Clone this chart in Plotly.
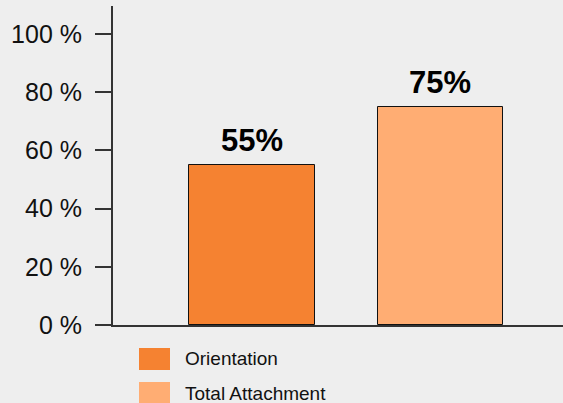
import plotly.graph_objects as go

categories = ["Orientation", "Total Attachment"]
values = [55, 75]
labels = ["55%", "75%"]
colors = ["#F58231", "#FFAD73"]
tick_vals = [0, 20, 40, 60, 80, 100]
tick_text = ["0 %", "20 %", "40 %", "60 %", "80 %", "100 %"]

FONT = "Liberation Sans, Arial, sans-serif"
W, H = 563, 403
ml, mr, mt, mb = 113, 0, 6, 78

fig = go.Figure()
for i, (cat, v, c) in enumerate(zip(categories, values, colors)):
    fig.add_trace(go.Bar(
        x=[i], y=[v], name=cat, width=0.668,
        marker=dict(color=c, line=dict(color="#111111", width=1)),
        showlegend=False, hoverinfo="skip",
    ))
    fig.add_annotation(x=i, y=v, text="<b>%s</b>" % labels[i], showarrow=False,
                       yanchor="bottom", yshift=5,
                       font=dict(family=FONT, size=31, color="#000000"))

# manual legend (larger swatches like the reference)
plot_h = H - mt - mb
plot_w = W - ml - mr
def px_to_paper_x(px):
    return (px - ml) / plot_w
def px_to_paper_y(py):
    return (H - mb - py) / plot_h

legend_rows = [(348, 370), (382, 404)]
for (top, bot), cat, c in zip(legend_rows, categories, colors):
    fig.add_shape(type="rect", xref="paper", yref="paper",
                  x0=px_to_paper_x(139), x1=px_to_paper_x(170),
                  y0=px_to_paper_y(bot), y1=px_to_paper_y(top),
                  fillcolor=c, line=dict(width=0), layer="above")
    fig.add_annotation(xref="paper", yref="paper", x=px_to_paper_x(183),
                       y=px_to_paper_y((top + bot) / 2), text=cat,
                       showarrow=False, xanchor="left", yanchor="middle",
                       font=dict(family=FONT, size=19, color="#111111"))

fig.update_layout(
    width=W, height=H,
    margin=dict(l=ml, r=mr, t=mt, b=mb, pad=0),
    paper_bgcolor="#EEEEEE", plot_bgcolor="#EEEEEE",
    font=dict(family=FONT, color="#111111"),
    bargap=0,
)
fig.update_xaxes(range=[-0.737, 1.65], showticklabels=False, ticks="",
                 showgrid=False, zeroline=False, showline=True,
                 linecolor="#333333", linewidth=2, fixedrange=True)
fig.update_yaxes(range=[0, 109.6], tickvals=tick_vals, ticktext=tick_text,
                 ticks="outside", ticklen=16, tickwidth=2, tickcolor="#333333",
                 ticklabelstandoff=8,
                 tickfont=dict(family=FONT, size=25, color="#111111"),
                 showgrid=False, zeroline=False, showline=True,
                 linecolor="#333333", linewidth=2, fixedrange=True)

fig.write_html("out.html", config={"displayModeBar": False},
               post_script="document.body.style.margin='0';"
                           "document.body.style.overflow='hidden';"
                           "document.body.style.background='#EEEEEE';")
